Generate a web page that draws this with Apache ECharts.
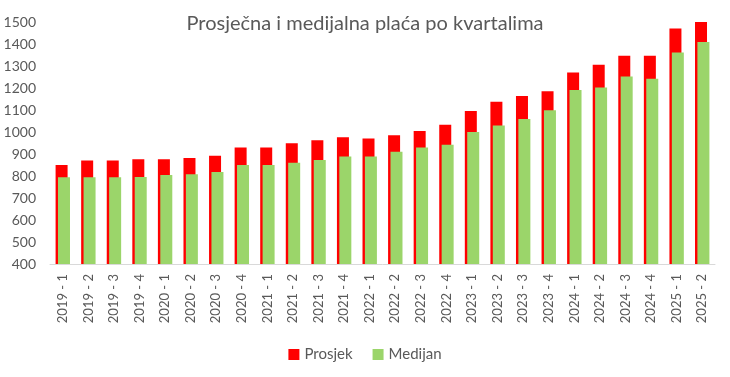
<!DOCTYPE html>
<html><head><meta charset="utf-8">
<script src="https://cdn.jsdelivr.net/npm/echarts@6/dist/echarts.min.js"></script>
<style>html,body{margin:0;padding:0;background:#fff}#c{width:730px;height:377px}</style>
</head><body><div id="c"></div>
<script>
var categories = ["2019 - 1","2019 - 2","2019 - 3","2019 - 4","2020 - 1","2020 - 2","2020 - 3","2020 - 4","2021 - 1","2021 - 2","2021 - 3","2021 - 4","2022 - 1","2022 - 2","2022 - 3","2022 - 4","2023 - 1","2023 - 2","2023 - 3","2023 - 4","2024 - 1","2024 - 2","2024 - 3","2024 - 4","2025 - 1","2025 - 2"];
var prosjek = [850,870,870,876,876,882,892,929,929,949,962,976,971,985,1005,1033,1095,1138,1164,1185,1270,1306,1347,1347,1471,1501];
var medijan = [794,794,794,795,805,808,818,850,850,860,873,889,889,910,929,942,1000,1030,1059,1099,1191,1202,1252,1242,1361,1409];
var yTicks = {min:400,max:1500,interval:100};

var chart = echarts.init(document.getElementById('c'));
var font = 'Lato, "Open Sans", sans-serif';
chart.setOption({
  animation:false,
  title:{text:'Prosječna i medijalna plaća po kvartalima',left:'center',top:9,
    textStyle:{fontFamily:font,fontSize:20,fontWeight:'normal',color:'#595959'}},
  grid:{left:50,right:15,top:22,bottom:113},
  legend:{bottom:10,left:'center',itemWidth:11,itemHeight:11,itemGap:20,icon:'rect',
    textStyle:{fontFamily:font,fontSize:15,color:'#595959'},data:['Prosjek','Medijan']},
  xAxis:{type:'category',data:categories,
    axisLine:{lineStyle:{color:'#d9d9d9'}},axisTick:{show:false},
    axisLabel:{rotate:90,interval:0,fontFamily:font,fontSize:13,color:'#595959',margin:10}},
  yAxis:{type:'value',min:yTicks.min,max:yTicks.max,interval:yTicks.interval,
    splitLine:{show:false},axisLine:{show:false},axisTick:{show:false},
    axisLabel:{fontFamily:font,fontSize:14,color:'#595959',margin:14,formatter:function(v){return String(v);}}},
  series:[
    {name:'Prosjek',type:'bar',data:prosjek,barWidth:12,barGap:'-80%',itemStyle:{color:'#ff0000'}},
    {name:'Medijan',type:'bar',data:medijan,barWidth:12,itemStyle:{color:'#9bd56a'}}
  ]
});
</script></body></html>
